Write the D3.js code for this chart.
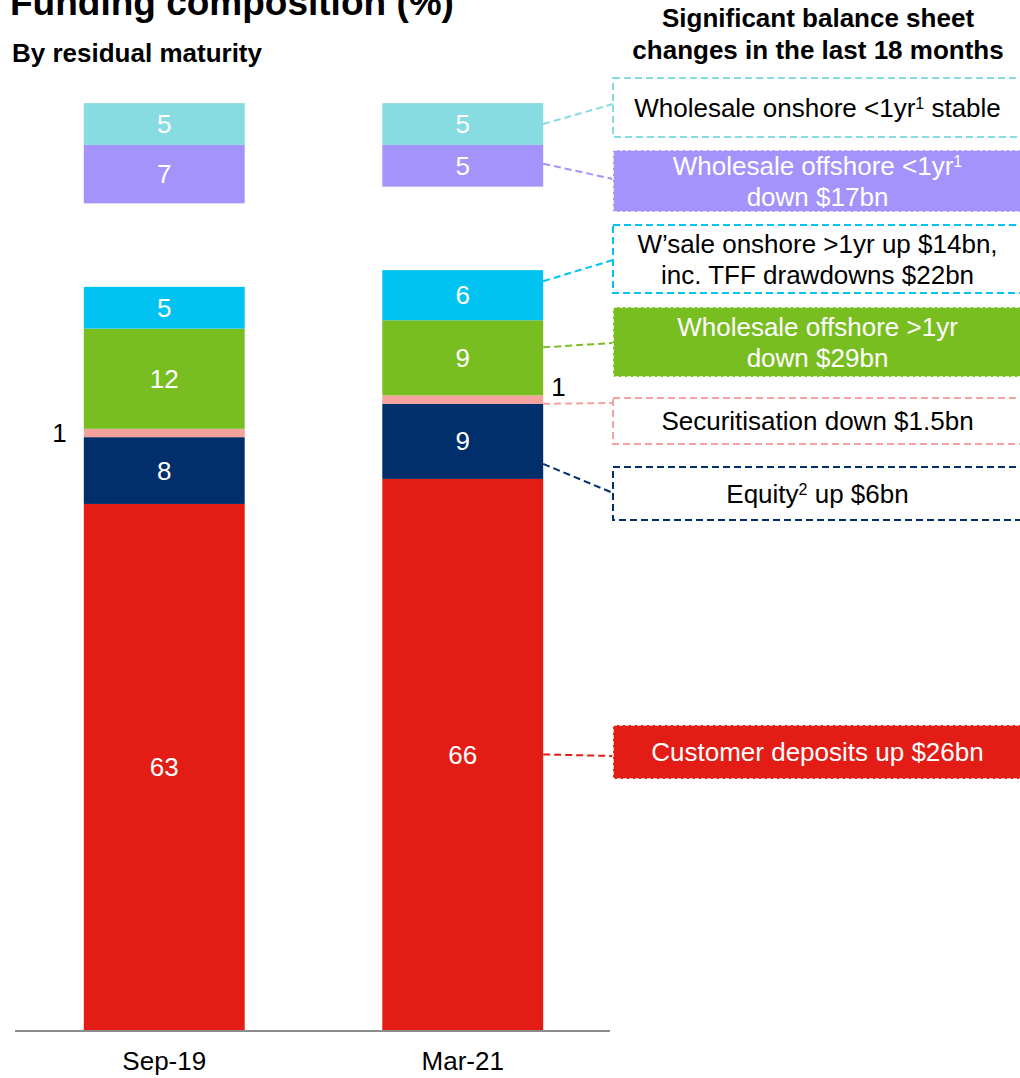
<!DOCTYPE html>
<html>
<head>
<meta charset="utf-8">
<script src="https://cdn.jsdelivr.net/npm/d3@7"></script>
<style>
  html, body { margin: 0; padding: 0; background: #fff; }
  svg text { font-family: "Liberation Sans", Arial, Helvetica, sans-serif; }
</style>
</head>
<body>
<svg id="chart" width="1020" height="1078"></svg>
<script>
// Funding composition (%) by residual maturity
const categories = ["Sep-19", "Mar-21"];
const seriesKeys = [
  "Customer deposits",
  "Equity",
  "Securitisation",
  "Wholesale offshore >1yr",
  "Wholesale onshore >1yr",
  "Wholesale offshore <1yr",
  "Wholesale onshore <1yr"
];
const sep19Values = [63, 8, 1, 12, 5, 7, 5];
const mar21Values = [66, 9, 1, 9, 6, 5, 5];

// Commentary on each funding line (^x^ marks a superscript)
const changeNotes = [
  ["Customer deposits up $26bn"],
  ["Equity^2^ up $6bn"],
  ["Securitisation down $1.5bn"],
  ["Wholesale offshore >1yr", "down $29bn"],
  ["W\u2019sale onshore >1yr up $14bn,", "inc. TFF drawdowns $22bn"],
  ["Wholesale offshore <1yr^1^", "down $17bn"],
  ["Wholesale onshore <1yr^1^ stable"]
];

// ---- styling / layout ----
const colors = {
  "Customer deposits": "#E31C15",
  "Equity": "#012F6B",
  "Securitisation": "#F5A19D",
  "Wholesale offshore >1yr": "#79BE21",
  "Wholesale onshore >1yr": "#00C3F2",
  "Wholesale offshore <1yr": "#A393FA",
  "Wholesale onshore <1yr": "#86DCE0"
};
// notes drawn as solid coloured boxes (others are white with a coloured outline)
const filledNotes = new Set(["Customer deposits", "Wholesale offshore >1yr", "Wholesale offshore <1yr"]);
const SPACER = "__gap";      // blank band between >1yr and <1yr funding
const GAP_UNITS = 10;
const FONT = 26;

const svg = d3.select("#chart");

const rows = categories.map((c, i) => {
  const vals = i === 0 ? sep19Values : mar21Values;
  const r = { category: c };
  seriesKeys.forEach((k, j) => r[k] = vals[j]);
  r[SPACER] = GAP_UNITS;
  return r;
});

const stackKeys = [...seriesKeys.slice(0, 5), SPACER, ...seriesKeys.slice(5)];
const stacked = d3.stack().keys(stackKeys)(rows);

const x = d3.scaleBand().domain(categories).range([15, 612]).paddingInner(0.461).paddingOuter(0.2305);
const y = d3.scaleLinear().domain([0, 100]).range([1030, 195]);

// title block
svg.append("text").attr("x", 10).attr("y", 15)
  .attr("font-size", 37).attr("font-weight", "bold").attr("fill", "#000")
  .text("Funding composition (%)");
svg.append("text").attr("x", 12).attr("y", 62)
  .attr("font-size", 26).attr("font-weight", "bold").attr("fill", "#000")
  .text("By residual maturity");
const head = svg.append("text").attr("x", 818).attr("font-size", 26)
  .attr("font-weight", "bold").attr("text-anchor", "middle").attr("fill", "#000");
head.append("tspan").attr("x", 818).attr("y", 27).text("Significant balance sheet");
head.append("tspan").attr("x", 818).attr("y", 59).text("changes in the last 18 months");

// bars
const layers = svg.append("g").selectAll("g")
  .data(stacked.filter(s => s.key !== SPACER))
  .join("g")
  .attr("fill", d => colors[d.key]);

layers.selectAll("rect")
  .data(d => d.map(p => ({ key: d.key, p })))
  .join("rect")
  .attr("x", d => x(d.p.data.category))
  .attr("width", x.bandwidth())
  .attr("y", d => y(d.p[1]))
  .attr("height", d => y(d.p[0]) - y(d.p[1]));

// value labels
const labelG = svg.append("g").attr("font-size", FONT);
stacked.filter(s => s.key !== SPACER).forEach(s => {
  s.forEach(p => {
    const v = p[1] - p[0];
    const cx = x(p.data.category) + x.bandwidth() / 2;
    const cy = (y(p[0]) + y(p[1])) / 2;
    if (v >= 2) {
      labelG.append("text").attr("x", cx).attr("y", cy).attr("dy", "0.35em")
        .attr("text-anchor", "middle").attr("fill", "#fff").text(v);
    } else if (p.data.category === categories[0]) {
      labelG.append("text").attr("x", x(p.data.category) - 17).attr("y", cy).attr("dy", "0.35em")
        .attr("text-anchor", "end").attr("fill", "#000").text(v);
    } else {
      labelG.append("text").attr("x", x(p.data.category) + x.bandwidth() + 8).attr("y", y(p[1]) + 1)
        .attr("text-anchor", "start").attr("fill", "#000").text(v);
    }
  });
});

// axis
const axis = svg.append("g").attr("transform", `translate(0,${y(0)})`)
  .call(d3.axisBottom(x).tickSize(0).tickPadding(22));
axis.select(".domain").attr("stroke", "#8C8C8C").attr("stroke-width", 2)
  .attr("d", "M15,1H610");
axis.selectAll(".tick text").attr("font-size", FONT).attr("fill", "#000")
  .attr("font-family", '"Liberation Sans", Arial, sans-serif');

// commentary boxes linked to the latest bar
const boxLayout = {
  "Customer deposits":       { top: 725, bottom: 779, anchor: 0.5,  endY: 756 },
  "Equity":                  { top: 467, bottom: 520, anchor: 0.8,  endY: 493 },
  "Securitisation":          { top: 398, bottom: 444, anchor: 1.0,  endY: 403 },
  "Wholesale offshore >1yr": { top: 307, bottom: 377, anchor: 0.36, endY: 343 },
  "Wholesale onshore >1yr":  { top: 225, bottom: 293, anchor: 0.22, endY: 260 },
  "Wholesale offshore <1yr": { top: 150, bottom: 212, anchor: 0.45, endY: 179 },
  "Wholesale onshore <1yr":  { top: 78,  bottom: 137, anchor: 0.5,  endY: 104 }
};
const boxLeft = 613, boxRight = 1022, boxCx = (boxLeft + boxRight) / 2;
const last = categories[categories.length - 1];
const notesG = svg.append("g");

function addRichLine(textSel, str, lx, ly) {
  const t = textSel.append("tspan").attr("x", lx).attr("y", ly);
  str.split(/(\^[^^]+\^)/).filter(s => s.length).forEach(part => {
    if (part.startsWith("^")) {
      t.append("tspan").attr("font-size", Math.round(FONT * 0.62))
        .attr("baseline-shift", "super").text(part.slice(1, -1));
    } else {
      t.append("tspan").text(part);
    }
  });
}

seriesKeys.forEach((key, i) => {
  const L = boxLayout[key];
  const layer = stacked.find(s => s.key === key);
  const p = layer.find(q => q.data.category === last);
  const sy = y(p[1]) + (y(p[0]) - y(p[1])) * L.anchor;
  const filled = filledNotes.has(key);
  const col = colors[key];

  notesG.append("line")
    .attr("x1", x(last) + x.bandwidth()).attr("y1", sy)
    .attr("x2", boxLeft).attr("y2", L.endY)
    .attr("stroke", col).attr("stroke-width", 2).attr("stroke-dasharray", "7,4");

  notesG.append("rect")
    .attr("x", boxLeft).attr("y", L.top)
    .attr("width", boxRight - boxLeft).attr("height", L.bottom - L.top)
    .attr("fill", filled ? col : "#fff")
    .attr("stroke", filled ? "#fff" : col)
    .attr("stroke-width", filled ? 1.5 : 2)
    .attr("stroke-dasharray", filled ? "4,2" : "7,4");

  const lines = changeNotes[i];
  const cy = (L.top + L.bottom) / 2;
  const lh = 31;
  const t = notesG.append("text").attr("text-anchor", "middle").attr("font-size", FONT)
    .attr("fill", filled ? "#fff" : "#000");
  lines.forEach((ln, j) => {
    const ly = cy + (j - (lines.length - 1) / 2) * lh + FONT * 0.36;
    addRichLine(t, ln, boxCx, ly);
  });
});
</script>
</body>
</html>
